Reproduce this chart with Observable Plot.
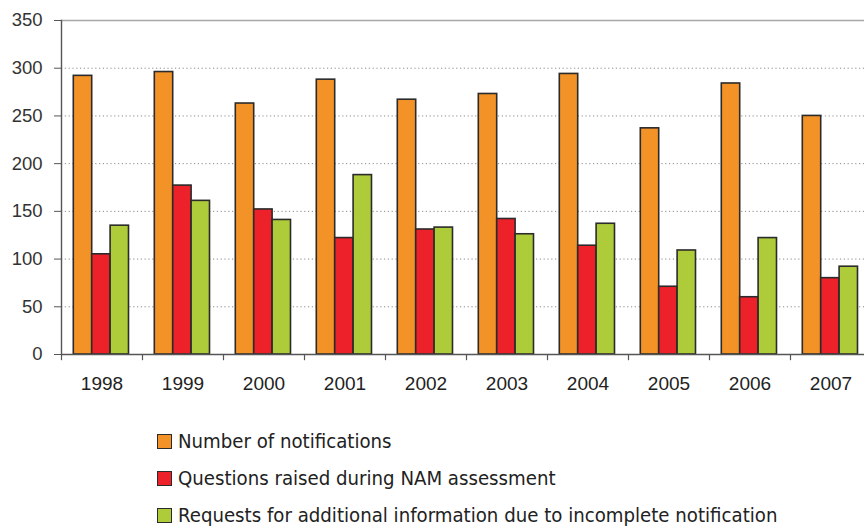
<!DOCTYPE html>
<html>
<head>
<meta charset="utf-8">
<script src="https://cdn.jsdelivr.net/npm/d3@7"></script>
<script src="https://cdn.jsdelivr.net/npm/@observablehq/plot@0.6"></script>
<style>
  html, body { margin: 0; padding: 0; background: #fff; overflow: hidden; width: 864px; height: 528px; }
  #chart { width: 872px; }
  #chart svg { display: block; max-width: none !important; }
  #legend { padding-top: 23px; padding-left: 157px; font-family: "Liberation Sans Narrow", "DejaVu Sans Condensed", sans-serif; font-size: 20.2px; color: #222; }
  .row { height: 37px; line-height: 37px; white-space: nowrap; display: flex; align-items: center; }
  .sw { width: 13px; height: 13px; border: 1.5px solid #2b2b2b; margin-right: 6px; flex: none; }
</style>
</head>
<body>
<div id="chart"></div>
<div id="legend"></div>
<script>
const years = ["1998","1999","2000","2001","2002","2003","2004","2005","2006","2007"];
const seriesNames = [
  "Number of notifications",
  "Questions raised during NAM assessment",
  "Requests for additional information due to incomplete notification"
];
const notifications = [292, 296, 263, 288, 267, 273, 294, 237, 284, 250];
const questions     = [105, 177, 152, 122, 131, 142, 114, 71, 60, 80];
const requests      = [135, 161, 141, 188, 133, 126, 137, 109, 122, 92];
const colors = ["#f29227", "#ed2129", "#aecb3a"];
const yTicks = [0, 50, 100, 150, 200, 250, 300, 350];
const gridTicks = [50, 100, 150, 200, 250, 300];

const seriesValues = [notifications, questions, requests];
const data = [];
seriesNames.forEach((s, i) => years.forEach((y, j) => data.push({year: y, series: s, value: seriesValues[i][j]})));

const W = 872, ML = 61, MR = 1;
const step = (W - ML - MR) / years.length;
const groupPad = 12.3, barW = 18.4;

const barMarks = seriesNames.map((s, i) => Plot.barY(data.filter(d => d.series === s), {
  x: "year", y: "value", fill: colors[i], stroke: "#2b2b2b", strokeWidth: 1.6,
  insetLeft: groupPad + i * barW,
  insetRight: step - groupPad - (i + 1) * barW
}));

const chart = Plot.plot({
  width: W, height: 400,
  marginLeft: ML, marginRight: MR, marginTop: 20, marginBottom: 46,
  style: {fontFamily: "'Liberation Sans', Arial, sans-serif", fontSize: "19px", color: "#333", background: "#fff", maxWidth: "none"},
  x: {domain: years, padding: 0, axis: null},
  y: {domain: [0, 350], axis: null},
  marks: [
    Plot.ruleY(gridTicks, {stroke: "#8a8a8a", strokeDasharray: "1.2,2.6", strokeWidth: 1}),
    Plot.ruleY([350], {stroke: "#a8a8a8", strokeWidth: 1.6}),
    ...barMarks,
    Plot.ruleY([0], {stroke: "#555", strokeWidth: 1.4}),
    Plot.frame({anchor: "left", stroke: "#555", strokeWidth: 1.4}),
    Plot.ruleX(years, {x: d => d, y1: 0, y2: -6.5, dx: -step / 2, stroke: "#555", strokeWidth: 1.2}),
    Plot.axisY({ticks: yTicks, tickSize: 7, tickPadding: 12, fontSize: 18.5, stroke: "#555", fill: "#333", label: null}),
    Plot.axisX({tickSize: 0, tickPadding: 22, fontSize: 19, fill: "#222", label: null})
  ]
});
document.getElementById("chart").appendChild(chart);

const legend = document.getElementById("legend");
seriesNames.forEach((s, i) => {
  const row = document.createElement("div");
  row.className = "row";
  const sw = document.createElement("span");
  sw.className = "sw";
  sw.style.background = colors[i];
  const t = document.createElement("span");
  t.textContent = s;
  row.appendChild(sw); row.appendChild(t);
  legend.appendChild(row);
});
</script>
</body>
</html>
